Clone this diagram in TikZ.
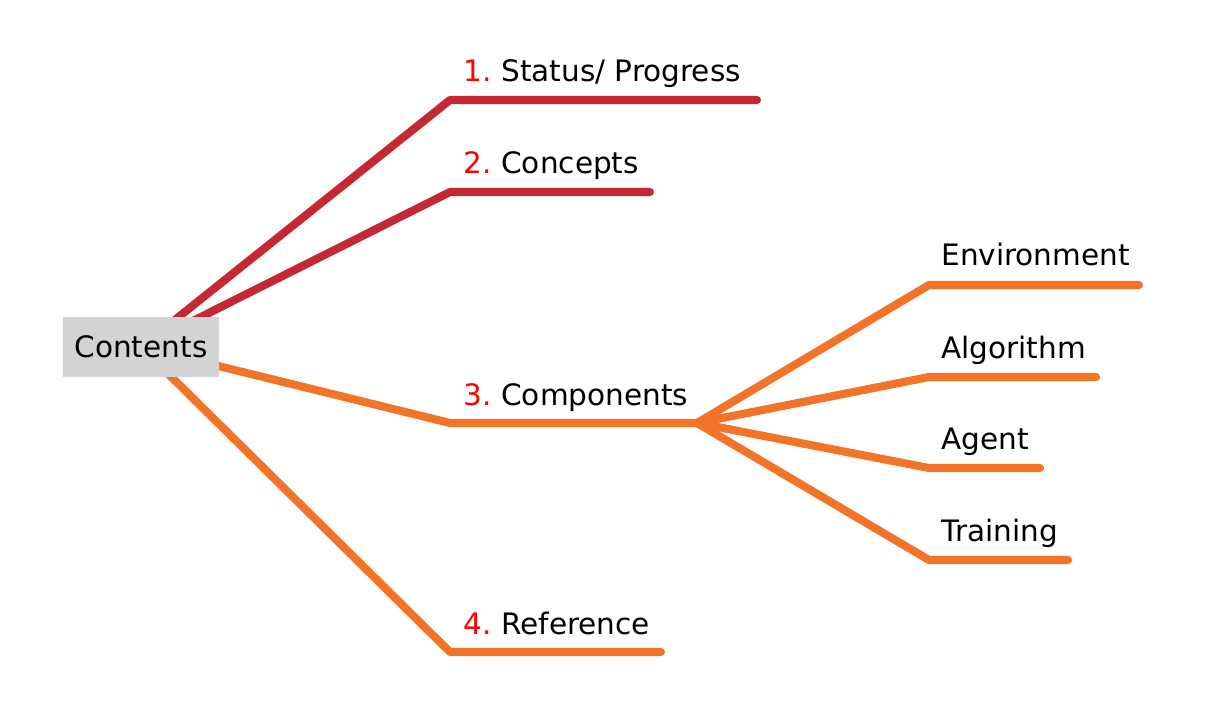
\documentclass[tikz,border=0pt]{standalone}
\usepackage{fontspec}
\setmainfont{DejaVu Sans}
\usetikzlibrary{positioning, backgrounds, calc}
\definecolor{branchred}{RGB}{198, 40, 51}
\definecolor{branchorange}{RGB}{243, 115, 41}
\definecolor{boxgray}{RGB}{211, 211, 211}
\definecolor{numred}{RGB}{255, 0, 0}

\begin{document}
\begin{tikzpicture}[x=0.02cm, y=-0.02cm,
    rootbox/.style={fill=boxgray, minimum width=3.12cm, minimum height=1.2cm, inner sep=0pt, font=\fontsize{16.8}{20}\selectfont},
    branch/.style={line width=4.6pt, line cap=round, line join=round},
    leaf/.style={anchor=base west, inner sep=0pt, font=\fontsize{16.8}{20}\selectfont}]
    \useasboundingbox (0,0) rectangle (1222,709);

    % Root
    \node[rootbox] (contents) at (141,347) {Contents};

    % Branch points
    \coordinate (b1) at (450,100);  \coordinate (e1) at (757,100);
    \coordinate (b2) at (450,192);  \coordinate (e2) at (650,192);
    \coordinate (b3) at (450,423);  \coordinate (e3) at (697,423);
    \coordinate (b4) at (450,652);  \coordinate (e4) at (661,652);
    \coordinate (c1) at (929,285);  \coordinate (f1) at (1139,285);
    \coordinate (c2) at (929,377);  \coordinate (f2) at (1096,377);
    \coordinate (c3) at (929,468);  \coordinate (f3) at (1040,468);
    \coordinate (c4) at (929,560);  \coordinate (f4) at (1068,560);

    % Branches
    \begin{scope}[on background layer]
        \draw[branch, branchred] (contents.center) -- (b1) -- (e1);
        \draw[branch, branchred] (contents.center) -- (b2) -- (e2);
        \draw[branch, branchorange] (contents.center) -- (b3) -- (e3);
        \draw[branch, branchorange] (contents.center) -- (b4) -- (e4);
        \foreach \i in {1,...,4}
            \draw[branch, branchorange] (e3) -- (c\i) -- (f\i);
    \end{scope}

    % Labels
    \node[leaf] (l1) at ($(b1)+(13,-18)$) {\textcolor{numred}{1.}\hspace{-1.5pt} Status/ Progress};
    \node[leaf] (l2) at ($(b2)+(13,-18)$) {\textcolor{numred}{2.}\hspace{-1.5pt} Concepts};
    \node[leaf] (l3) at ($(b3)+(13,-18)$) {\textcolor{numred}{3.}\hspace{-1.5pt} Components};
    \node[leaf] (l4) at ($(b4)+(13,-18)$) {\textcolor{numred}{4.}\hspace{-1.5pt} Reference};
    \node[leaf] (m1) at ($(c1)+(12,-19)$) {Environment};
    \node[leaf] (m2) at ($(c2)+(12,-19)$) {Algorithm};
    \node[leaf] (m3) at ($(c3)+(12,-19)$) {Agent};
    \node[leaf] (m4) at ($(c4)+(12,-19)$) {Training};
\end{tikzpicture}
\end{document}
